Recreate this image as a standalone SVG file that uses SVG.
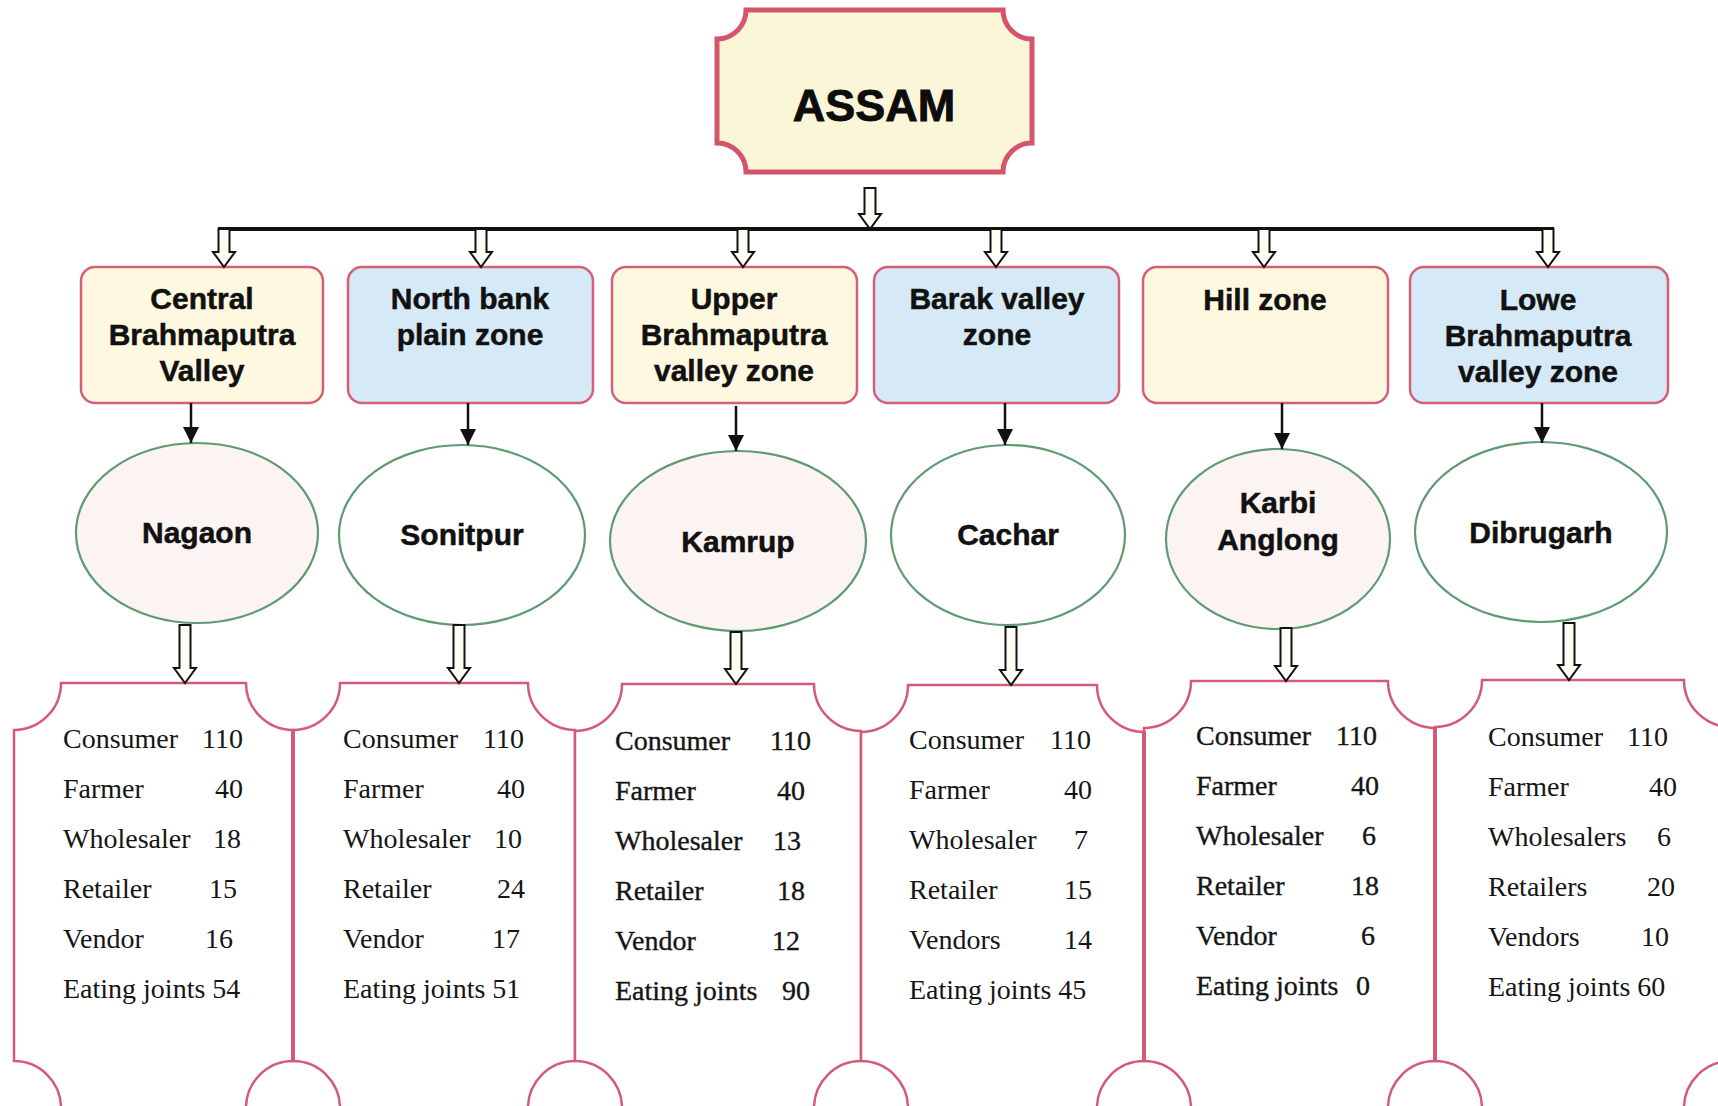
<svg xmlns="http://www.w3.org/2000/svg" width="1718" height="1106" viewBox="0 0 1718 1106">
  <defs>
    <style>
      .bg { fill: #ffffff; }
      .plaque { fill: #fcf6d8; stroke: #d4546c; stroke-width: 5; }
      .zone { stroke: #d65f78; stroke-width: 2.5; }
      .yellow { fill: #fdf8df; }
      .blue { fill: #d6e9f6; }
      .district { stroke: #5f9a73; stroke-width: 2.2; }
      .white { fill: #ffffff; }
      .pink { fill: #fcf4f2; }
      .table { fill: #ffffff; stroke: #d45b75; stroke-width: 2.5; }
      .seam { stroke: #d45b75; stroke-width: 4; }
      .title { font-family: "Liberation Sans", Arial, sans-serif; font-weight: bold; font-size: 45px; fill: #0d0d0d; stroke: #0d0d0d; stroke-width: 0.9; text-anchor: middle; }
      .label { font-family: "Liberation Sans", Arial, sans-serif; font-weight: bold; font-size: 30px; fill: #111111; stroke: #111111; stroke-width: 0.5; text-anchor: middle; }
      .cell { font-family: "Liberation Serif", "Times New Roman", serif; font-size: 28px; fill: #151515; }
      .num { text-anchor: end; }
      .heavy { stroke: #151515; stroke-width: 0.35; }
      .hollow { fill: #fffef6; stroke: #111111; stroke-width: 2; stroke-linejoin: miter; }
      .bar { stroke: #111111; stroke-width: 4; fill: none; }
      .solid { stroke: #111111; stroke-width: 2.5; fill: none; marker-end: url(#head); }
    </style>
    <marker id="head" viewBox="0 0 16 16" refX="16" refY="8" markerWidth="16" markerHeight="16" markerUnits="userSpaceOnUse" orient="auto">
      <path d="M0,0 L16,8 L0,16 Z" fill="#111111"/>
    </marker>
  </defs>

  <rect class="bg" x="0" y="0" width="1718" height="1106"/>

  <!-- state -->
  <g id="assam">
    <path class="plaque" d="M746,10 H1003 A29,29 0 0 0 1032,39 V143 A29,29 0 0 0 1003,172 H746 A29,29 0 0 0 717,143 V39 A29,29 0 0 0 746,10 Z"/>
    <text class="title" x="874" y="121">ASSAM</text>
  </g>

  <!-- agro-climatic zones -->
  <g id="zone-central">
    <rect class="zone yellow" x="81" y="267" width="242" height="136" rx="14"/>
    <text class="label" x="202" y="309">Central</text>
    <text class="label" x="202" y="345">Brahmaputra</text>
    <text class="label" x="202" y="381">Valley</text>
  </g>
  <g id="zone-northbank">
    <rect class="zone blue" x="348" y="267" width="245" height="136" rx="14"/>
    <text class="label" x="470" y="309">North bank</text>
    <text class="label" x="470" y="345">plain zone</text>
  </g>
  <g id="zone-upper">
    <rect class="zone yellow" x="612" y="267" width="245" height="136" rx="14"/>
    <text class="label" x="734" y="309">Upper</text>
    <text class="label" x="734" y="345">Brahmaputra</text>
    <text class="label" x="734" y="381">valley zone</text>
  </g>
  <g id="zone-barak">
    <rect class="zone blue" x="874" y="267" width="245" height="136" rx="14"/>
    <text class="label" x="997" y="309">Barak valley</text>
    <text class="label" x="997" y="345">zone</text>
  </g>
  <g id="zone-hill">
    <rect class="zone yellow" x="1143" y="267" width="245" height="136" rx="14"/>
    <text class="label" x="1265" y="310">Hill zone</text>
  </g>
  <g id="zone-lower">
    <rect class="zone blue" x="1410" y="267" width="258" height="136" rx="14"/>
    <text class="label" x="1538" y="310">Lowe</text>
    <text class="label" x="1538" y="346">Brahmaputra</text>
    <text class="label" x="1538" y="382">valley zone</text>
  </g>

  <!-- districts -->
  <g id="district-nagaon">
    <ellipse class="district pink" cx="197" cy="533" rx="121" ry="90"/>
    <text class="label" x="197" y="543">Nagaon</text>
  </g>
  <g id="district-sonitpur">
    <ellipse class="district white" cx="462" cy="535" rx="123" ry="90"/>
    <text class="label" x="462" y="545">Sonitpur</text>
  </g>
  <g id="district-kamrup">
    <ellipse class="district pink" cx="738" cy="541" rx="128" ry="90"/>
    <text class="label" x="738" y="552">Kamrup</text>
  </g>
  <g id="district-cachar">
    <ellipse class="district white" cx="1008" cy="535" rx="117" ry="90"/>
    <text class="label" x="1008" y="545">Cachar</text>
  </g>
  <g id="district-karbi">
    <ellipse class="district pink" cx="1278" cy="539" rx="112" ry="90"/>
    <text class="label" x="1278" y="513">Karbi</text>
    <text class="label" x="1278" y="550">Anglong</text>
  </g>
  <g id="district-dibrugarh">
    <ellipse class="district white" cx="1541" cy="532" rx="126" ry="90"/>
    <text class="label" x="1541" y="543">Dibrugarh</text>
  </g>

  <!-- respondent tables -->
  <g id="table-nagaon" class="cell">
    <path class="table" d="M61,683 H246 A47,47 0 0 0 293,730 V1061 A47,47 0 0 0 246,1108 H61 A47,47 0 0 0 14,1061 V730 A47,47 0 0 0 61,683 Z"/>
    <text x="63" y="748">Consumer</text><text class="num" x="243" y="748">110</text>
    <text x="63" y="798">Farmer</text><text class="num" x="243" y="798">40</text>
    <text x="63" y="848">Wholesaler</text><text class="num" x="241" y="848">18</text>
    <text x="63" y="898">Retailer</text><text class="num" x="237" y="898">15</text>
    <text x="63" y="948">Vendor</text><text class="num" x="233" y="948">16</text>
    <text x="63" y="998">Eating joints 54</text>
  </g>
  <g id="table-sonitpur" class="cell">
    <path class="table" d="M340,683 H528 A47,47 0 0 0 575,730 V1061 A47,47 0 0 0 528,1108 H340 A47,47 0 0 0 293,1061 V730 A47,47 0 0 0 340,683 Z"/>
    <text x="343" y="748">Consumer</text><text class="num" x="524" y="748">110</text>
    <text x="343" y="798">Farmer</text><text class="num" x="525" y="798">40</text>
    <text x="343" y="848">Wholesaler</text><text class="num" x="522" y="848">10</text>
    <text x="343" y="898">Retailer</text><text class="num" x="525" y="898">24</text>
    <text x="343" y="948">Vendor</text><text class="num" x="520" y="948">17</text>
    <text x="343" y="998">Eating joints 51</text>
  </g>
  <g id="table-kamrup" class="cell heavy">
    <path class="table" d="M622,684 H814 A47,47 0 0 0 861,731 V1061 A47,47 0 0 0 814,1108 H622 A47,47 0 0 0 575,1061 V731 A47,47 0 0 0 622,684 Z"/>
    <text x="615" y="750">Consumer</text><text class="num" x="811" y="750">110</text>
    <text x="615" y="800">Farmer</text><text class="num" x="805" y="800">40</text>
    <text x="615" y="850">Wholesaler</text><text class="num" x="801" y="850">13</text>
    <text x="615" y="900">Retailer</text><text class="num" x="805" y="900">18</text>
    <text x="615" y="950">Vendor</text><text class="num" x="800" y="950">12</text>
    <text x="615" y="1000">Eating joints</text><text class="num" x="810" y="1000">90</text>
  </g>
  <g id="table-cachar" class="cell">
    <path class="table" d="M908,685 H1097 A47,47 0 0 0 1144,732 V1061 A47,47 0 0 0 1097,1108 H908 A47,47 0 0 0 861,1061 V732 A47,47 0 0 0 908,685 Z"/>
    <text x="909" y="749">Consumer</text><text class="num" x="1091" y="749">110</text>
    <text x="909" y="799">Farmer</text><text class="num" x="1092" y="799">40</text>
    <text x="909" y="849">Wholesaler</text><text class="num" x="1088" y="849">7</text>
    <text x="909" y="899">Retailer</text><text class="num" x="1092" y="899">15</text>
    <text x="909" y="949">Vendors</text><text class="num" x="1092" y="949">14</text>
    <text x="909" y="999">Eating joints 45</text>
  </g>
  <g id="table-karbi" class="cell heavy">
    <path class="table" d="M1191,681 H1388 A47,47 0 0 0 1435,728 V1061 A47,47 0 0 0 1388,1108 H1191 A47,47 0 0 0 1144,1061 V728 A47,47 0 0 0 1191,681 Z"/>
    <text x="1196" y="745">Consumer</text><text class="num" x="1377" y="745">110</text>
    <text x="1196" y="795">Farmer</text><text class="num" x="1379" y="795">40</text>
    <text x="1196" y="845">Wholesaler</text><text class="num" x="1376" y="845">6</text>
    <text x="1196" y="895">Retailer</text><text class="num" x="1379" y="895">18</text>
    <text x="1196" y="945">Vendor</text><text class="num" x="1375" y="945">6</text>
    <text x="1196" y="995">Eating joints</text><text class="num" x="1370" y="995">0</text>
  </g>
  <g id="table-dibrugarh" class="cell">
    <path class="table" d="M1482,680 H1684 A47,47 0 0 0 1731,727 V1061 A47,47 0 0 0 1684,1108 H1482 A47,47 0 0 0 1435,1061 V727 A47,47 0 0 0 1482,680 Z"/>
    <text x="1488" y="746">Consumer</text><text class="num" x="1668" y="746">110</text>
    <text x="1488" y="796">Farmer</text><text class="num" x="1677" y="796">40</text>
    <text x="1488" y="846">Wholesalers</text><text class="num" x="1671" y="846">6</text>
    <text x="1488" y="896">Retailers</text><text class="num" x="1675" y="896">20</text>
    <text x="1488" y="946">Vendors</text><text class="num" x="1669" y="946">10</text>
    <text x="1488" y="996">Eating joints 60</text>
  </g>
  <!-- heavier shared table borders -->
  <line class="seam" x1="293" y1="730" x2="293" y2="1061"/>
  <line class="seam" x1="1144" y1="731" x2="1144" y2="1061"/>
  <line class="seam" x1="1435" y1="728" x2="1435" y2="1061"/>

  <!-- connectors -->
  <g id="connectors">
    <polygon class="hollow" points="864.5,188 875.5,188 875.5,214 881,214 870,229 859,214 864.5,214"/>
    <line class="bar" x1="218" y1="229" x2="1554" y2="229"/>

    <polygon class="hollow" points="218.5,229 229.5,229 229.5,252 235,252 224,267 213,252 218.5,252"/>
    <polygon class="hollow" points="475.5,229 486.5,229 486.5,252 492,252 481,267 470,252 475.5,252"/>
    <polygon class="hollow" points="737.5,229 748.5,229 748.5,252 754,252 743,267 732,252 737.5,252"/>
    <polygon class="hollow" points="990.5,229 1001.5,229 1001.5,252 1007,252 996,267 985,252 990.5,252"/>
    <polygon class="hollow" points="1258.5,229 1269.5,229 1269.5,252 1275,252 1264,267 1253,252 1258.5,252"/>
    <polygon class="hollow" points="1542.5,229 1553.5,229 1553.5,252 1559,252 1548,267 1537,252 1542.5,252"/>

    <line class="solid" x1="191" y1="403" x2="191" y2="443"/>
    <line class="solid" x1="468" y1="403" x2="468" y2="445"/>
    <line class="solid" x1="736" y1="406" x2="736" y2="451"/>
    <line class="solid" x1="1005" y1="403" x2="1005" y2="445"/>
    <line class="solid" x1="1282" y1="403" x2="1282" y2="449"/>
    <line class="solid" x1="1542" y1="403" x2="1542" y2="443"/>

    <polygon class="hollow" points="179.5,625 190.5,625 190.5,668 196,668 185,683 174,668 179.5,668"/>
    <polygon class="hollow" points="453.5,625 464.5,625 464.5,668 470,668 459,683 448,668 453.5,668"/>
    <polygon class="hollow" points="730.5,632 741.5,632 741.5,669 747,669 736,684 725,669 730.5,669"/>
    <polygon class="hollow" points="1005.5,627 1016.5,627 1016.5,670 1022,670 1011,685 1000,670 1005.5,670"/>
    <polygon class="hollow" points="1280.5,628 1291.5,628 1291.5,666 1297,666 1286,681 1275,666 1280.5,666"/>
    <polygon class="hollow" points="1563.5,623 1574.5,623 1574.5,665 1580,665 1569,680 1558,665 1563.5,665"/>
  </g>
</svg>
